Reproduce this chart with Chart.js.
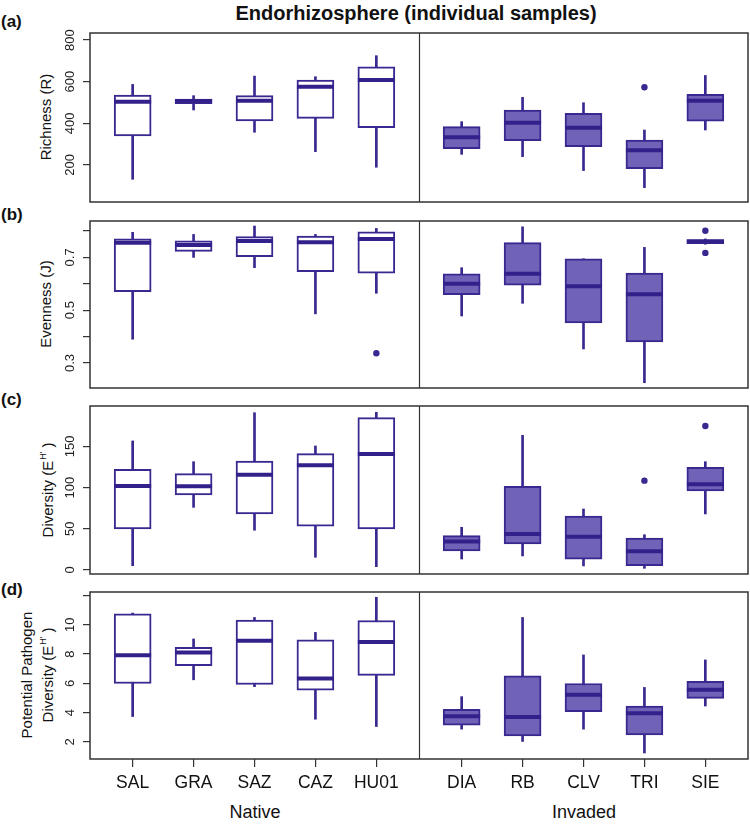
<!DOCTYPE html>
<html>
<head>
<meta charset="utf-8">
<script src="https://cdn.jsdelivr.net/npm/chart.js@4.4.0/dist/chart.umd.min.js"></script>
<style>
  body { margin: 0; background: #fff; font-family: "Liberation Sans", Arial, sans-serif; }
  #wrap { position: relative; width: 750px; height: 824px; overflow: hidden; background: #fff; }
  .txt { position: absolute; white-space: nowrap; color: #111; transform: translate(-50%, -50%); }
  .tag { position: absolute; left: 1px; font-weight: bold; font-size: 17px; color: #111; transform: translateY(-50%); }
  .ytitle { position: absolute; white-space: nowrap; font-size: 15px; color: #111; text-align: center;
            line-height: 17px; transform: translate(-50%, -50%) rotate(-90deg); }
  .ytitle sup { font-size: 9px; vertical-align: 7px; margin-left: 1px; margin-right: 4px; }
</style>
</head>
<body>
<div id="wrap">
  <div class="txt" style="left:416px; top:13px; font-weight:bold; font-size:20px;">Endorhizosphere (individual samples)</div>
  <div class="tag" style="top:22px;">(a)</div>
  <div class="tag" style="top:215px;">(b)</div>
  <div class="tag" style="top:400px;">(c)</div>
  <div class="tag" style="top:590px;">(d)</div>
  <div class="ytitle" style="left:45px; top:117px;">Richness (R)</div>
  <div class="ytitle" style="left:45px; top:304px;">Evenness (J)</div>
  <div class="ytitle" style="left:45px; top:490px;">Diversity (E<sup>H'</sup>)</div>
  <div class="ytitle" style="left:37px; top:675px;">Potential Pathogen<br>Diversity (E<sup>H'</sup>)</div>
  <div class="txt" style="left:255px; top:812px; font-size:18px;">Native</div>
  <div class="txt" style="left:584px; top:812px; font-size:18px;">Invaded</div>
</div>
<script>
// sites, native first then invaded
const nativeSites = ["SAL", "GRA", "SAZ", "CAZ", "HU01"];
const invadedSites = ["DIA", "RB", "CLV", "TRI", "SIE"];
const sites = nativeSites.concat(invadedSites);

// (a) Richness (R)
const richLo  = [131, 464, 357, 264, 189, 251, 240, 173, 91, 368];
const richQ1  = [339, 494, 411, 424, 379, 278, 317, 288, 182, 410];
const richMed = [504, 507, 509, 576, 608, 333, 403, 379, 271, 509];
const richQ3  = [536, 517, 533, 608, 672, 384, 464, 448, 319, 539];
const richHi  = [587, 533, 627, 624, 725, 408, 525, 499, 368, 630];
const richOutSite = ["TRI"];
const richOutVal  = [573];
const richTicks = [200, 400, 600, 800];
const richTickLabels = [200, 400, 600, 800];

// (b) Evenness (J)
const evenLo  = [0.390, 0.700, 0.661, 0.486, 0.564, 0.478, 0.526, 0.353, 0.225, 0.750];
const evenQ1  = [0.570, 0.723, 0.703, 0.646, 0.640, 0.559, 0.595, 0.452, 0.380, 0.752];
const evenMed = [0.756, 0.747, 0.762, 0.757, 0.770, 0.600, 0.638, 0.591, 0.560, 0.760];
const evenQ3  = [0.770, 0.763, 0.779, 0.781, 0.797, 0.638, 0.756, 0.695, 0.641, 0.768];
const evenHi  = [0.795, 0.787, 0.819, 0.787, 0.810, 0.661, 0.816, 0.695, 0.738, 0.770];
const evenOutSite = ["HU01", "SIE", "SIE"];
const evenOutVal  = [0.337, 0.801, 0.717];
const evenTicks = [0.3, 0.4, 0.5, 0.6, 0.7, 0.8];
const evenTickLabels = [0.3, 0.5, 0.7];

// (c) Diversity (E^H')
const divLo  = [5.2, 76, 48.2, 15.4, 4, 13.3, 17, 4.9, 2, 68];
const divQ1  = [49.8, 91, 68, 53, 49.8, 23, 31.6, 13, 5.2, 95.9];
const divMed = [101.9, 101.6, 115.7, 127, 140.8, 34.4, 43.7, 40.4, 22.7, 104];
const divQ3  = [122.2, 116.9, 132.3, 141.2, 184.9, 41.7, 101.6, 65.5, 38.8, 124.6];
const divHi  = [156.6, 131.4, 190.9, 150.5, 191.4, 51.8, 163.4, 74, 42.8, 131.4];
const divOutSite = ["TRI", "SIE"];
const divOutVal  = [108.4, 174.8];
const divTicks = [0, 50, 100, 150];
const divTickLabels = [0, 50, 100, 150];

// (d) Potential pathogen diversity (E^H')
const pathLo  = [3.73, 6.24, 5.77, 3.55, 3.05, 2.87, 2.03, 2.87, 1.24, 4.45];
const pathQ1  = [5.99, 7.21, 5.92, 5.54, 6.54, 3.14, 2.41, 4.07, 2.48, 4.97];
const pathMed = [7.92, 8.10, 8.91, 6.33, 8.82, 3.75, 3.70, 5.22, 3.95, 5.56];
const pathQ3  = [10.75, 8.46, 10.32, 8.98, 10.29, 4.23, 6.51, 5.99, 4.45, 6.13];
const pathHi  = [10.80, 9.03, 10.50, 9.48, 11.88, 5.09, 10.50, 7.94, 5.72, 7.60];
const pathOutSite = [];
const pathOutVal  = [];
const pathTicks = [2, 4, 6, 8, 10, 12];
const pathTickLabels = [2, 4, 6, 8, 10];

const dark = "#3b2790";
const medCol = "#34208a";
const fill = "#7062b7";

// box positions: 1..5 for native, then a wider gap for the invaded group
const groupGap = 0.4;
const pos = sites.map((s, i) => i < nativeSites.length ? i + 1 : i + 1 + groupGap);
const divider = nativeSites.length + 0.5 + groupGap / 2;

const panels = [
  { top: 33,  bottom: 202, min: 22,    max: 834,   lo: richLo, q1: richQ1, med: richMed, q3: richQ3, hi: richHi,
    outSite: richOutSite, outVal: richOutVal, ticks: richTicks, labels: richTickLabels },
  { top: 221, bottom: 388, min: 0.205, max: 0.838, lo: evenLo, q1: evenQ1, med: evenMed, q3: evenQ3, hi: evenHi,
    outSite: evenOutSite, outVal: evenOutVal, ticks: evenTicks, labels: evenTickLabels },
  { top: 406, bottom: 574, min: -4.9,  max: 199,   lo: divLo, q1: divQ1, med: divMed, q3: divQ3, hi: divHi,
    outSite: divOutSite, outVal: divOutVal, ticks: divTicks, labels: divTickLabels },
  { top: 592, bottom: 759, min: 0.83,  max: 12.24, lo: pathLo, q1: pathQ1, med: pathMed, q3: pathQ3, hi: pathHi,
    outSite: pathOutSite, outVal: pathOutVal, ticks: pathTicks, labels: pathTickLabels }
];

// box round the plot and the line between the two groups
const framePlugin = {
  id: "frame",
  afterDraw(chart) {
    const { ctx, chartArea: a, scales: { x } } = chart;
    ctx.save();
    ctx.strokeStyle = "#333";
    ctx.lineWidth = 1.5;
    ctx.strokeRect(a.left, a.top, a.right - a.left, a.bottom - a.top);
    const xd = Math.round(x.getPixelForValue(divider)) + 0.5;
    ctx.lineWidth = 1.2;
    ctx.beginPath();
    ctx.moveTo(xd, a.top);
    ctx.lineTo(xd, a.bottom);
    ctx.stroke();
    ctx.restore();
  }
};

// R style y tick labels, turned to read bottom to top
const yLabelPlugin = {
  id: "ylabels",
  afterDraw(chart, args, opts) {
    const { ctx, scales: { y } } = chart;
    ctx.save();
    ctx.fillStyle = "#222";
    ctx.font = "13px 'Liberation Sans', Arial, sans-serif";
    ctx.textAlign = "center";
    ctx.textBaseline = "middle";
    opts.labels.forEach(v => {
      ctx.save();
      ctx.translate(y.right - 20, y.getPixelForValue(v));
      ctx.rotate(-Math.PI / 2);
      ctx.fillText(String(v), 0, 0);
      ctx.restore();
    });
    ctx.restore();
  }
};

const wrap = document.getElementById("wrap");

panels.forEach((p, k) => {
  const last = k === panels.length - 1;
  const padT = 8;
  const axisH = 40;
  const h = (p.bottom - p.top) + padT + (last ? axisH : 8);
  const canvas = document.createElement("canvas");
  canvas.width = 750;
  canvas.height = h;
  canvas.style.position = "absolute";
  canvas.style.left = "0px";
  canvas.style.top = (p.top - padT) + "px";
  wrap.appendChild(canvas);

  new Chart(canvas.getContext("2d"), {
    type: "bar",
    data: {
      datasets: [
        {
          label: "whisker",
          data: pos.map((x, i) => ({ x: x, y: [p.lo[i], p.hi[i]] })),
          backgroundColor: dark,
          borderWidth: 0,
          barThickness: 2,
          grouped: false,
          order: 4
        },
        {
          label: "box",
          data: pos.map((x, i) => ({ x: x, y: [p.q1[i], p.q3[i]] })),
          backgroundColor: sites.map((s, i) => i < nativeSites.length ? "#ffffff" : fill),
          borderColor: dark,
          borderWidth: 2,
          borderSkipped: false,
          barThickness: 37,
          grouped: false,
          order: 3
        },
        {
          type: "scatter",
          label: "median",
          data: pos.map((x, i) => ({ x: x, y: p.med[i] })),
          pointStyle: "line",
          pointRadius: 18.5,
          pointHoverRadius: 18.5,
          pointBorderWidth: 4,
          pointBorderColor: medCol,
          order: 2
        },
        {
          type: "scatter",
          label: "outlier",
          data: p.outSite.map((s, j) => ({ x: pos[sites.indexOf(s)], y: p.outVal[j] })),
          pointStyle: "circle",
          pointRadius: 3.2,
          pointBorderWidth: 0,
          pointBackgroundColor: dark,
          order: 1
        }
      ]
    },
    options: {
      responsive: false,
      animation: false,
      events: [],
      layout: { autoPadding: false, padding: { top: padT, bottom: last ? 0 : 8, left: 0, right: 2 } },
      plugins: {
        legend: { display: false },
        tooltip: { enabled: false },
        ylabels: { labels: p.labels }
      },
      scales: {
        x: {
          type: "linear",
          display: last,
          min: 0.3,
          max: 11.1,
          offset: false,
          afterBuildTicks: (s) => { s.ticks = pos.map(v => ({ value: v })); },
          afterFit: (s) => { if (last) s.height = axisH; },
          ticks: {
            autoSkip: false,
            maxRotation: 0,
            padding: 6,
            color: "#111",
            font: { family: "'Liberation Sans', Arial, sans-serif", size: 17.5 },
            callback: (v) => {
              const i = pos.findIndex(q => Math.abs(q - v) < 1e-6);
              return i >= 0 ? sites[i] : "";
            }
          },
          grid: { offset: false, drawOnChartArea: false, tickLength: 8, color: "#333", lineWidth: 1.2 },
          border: { display: false }
        },
        y: {
          type: "linear",
          position: "left",
          min: p.min,
          max: p.max,
          afterBuildTicks: (s) => { s.ticks = p.ticks.map(v => ({ value: v })); },
          afterFit: (s) => { s.width = 90; s.paddingTop = 0; s.paddingBottom = 0; },
          ticks: { display: false },
          grid: { drawOnChartArea: false, tickLength: 7, color: "#333", lineWidth: 1.2 },
          border: { display: false }
        }
      }
    },
    plugins: [framePlugin, yLabelPlugin]
  });
});
</script>
</body>
</html>
